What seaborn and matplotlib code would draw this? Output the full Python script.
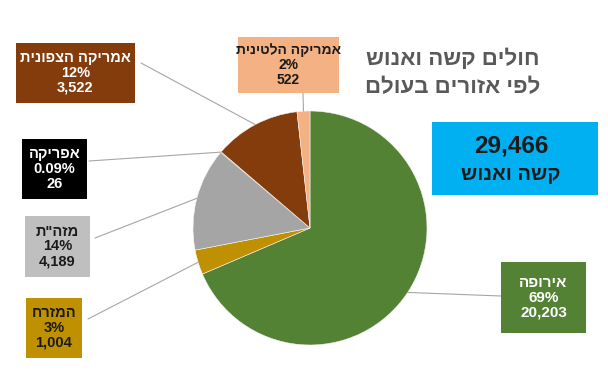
import matplotlib
matplotlib.use("Agg")
import matplotlib.pyplot as plt
import matplotlib.patches as mpatches
import numpy as np
import seaborn as sns

sns.set_theme(style="white")
plt.rcParams['font.family'] = ['Liberation Sans', 'DejaVu Sans']

# data, clockwise from 12 o'clock
regions = ["אירופה", "המזרח", 'מזה"ת', "אפריקה", "אמריקה הצפונית", "אמריקה הלטינית"]
patients = [20203, 1004, 4189, 26, 3522, 522]
pct_labels = ["69%", "3%", "14%", "0.09%", "12%", "2%"]
colors = ["#548235", "#BF9000", "#A5A5A5", "#000000", "#843C0C", "#F4B183"]
box_colors = ["#548235", "#BF9000", "#BFBFBF", "#000000", "#843C0C", "#F4B183"]
text_colors = ["white", "#1a1a1a", "#1a1a1a", "white", "white", "#1a1a1a"]
total_label = "29,466"
total_caption = "קשה ואנוש"
title_lines = ["חולים קשה ואנוש", "לפי אזורים בעולם"]

# layout in pixels (x0, y0, x1, y1) from top-left, plus line anchor on box
boxes = [(501, 262, 586, 333), (26, 298, 82, 358), (25, 216, 90, 277),
         (22, 139, 87, 199), (16, 43, 135, 103), (238, 37, 339, 93)]
anchors = [(501, 296), (88, 319), (95, 238), (89, 161), (141, 63), (303, 93)]
label_sizes = [11, 10.5, 10.5, 10.5, 10.5, 10]

W, H = 608, 390


def rtl(s):
    # matplotlib has no bidi support, flip Hebrew for display
    return s[::-1]


def fy(y):
    return H - y


fig = plt.figure(figsize=(6.08, 3.9), dpi=100)
fig.patch.set_facecolor("white")
ax = fig.add_axes([0, 0, 1, 1])

cx, cy, r = 310, 228, 117
wedges, _ = ax.pie(patients, colors=colors, startangle=90, counterclock=False,
                   center=(cx, fy(cy)), radius=r,
                   wedgeprops=dict(linewidth=0.4, edgecolor="#f5f5f5"))
ax.set_xlim(0, W)
ax.set_ylim(0, H)
ax.set_aspect("equal")
ax.axis("off")

for i, w in enumerate(wedges):
    mid = np.deg2rad((w.theta1 + w.theta2) / 2)
    px = cx + r * np.cos(mid)
    py = fy(cy) + r * np.sin(mid)
    ax_, ay_ = anchors[i]
    ax.plot([ax_, px], [fy(ay_), py], color="#A6A6A6", lw=0.8, zorder=1)

    x0, y0, x1, y1 = boxes[i]
    ax.add_patch(mpatches.Rectangle((x0, fy(y1)), x1 - x0, y1 - y0,
                                    facecolor=box_colors[i], edgecolor="none", zorder=3))
    txt = "\n".join([rtl(regions[i]), pct_labels[i], f"{patients[i]:,}"])
    ax.text((x0 + x1) / 2, fy((y0 + y1) / 2), txt, ha="center", va="center",
            fontsize=label_sizes[i], fontweight="bold", color=text_colors[i],
            linespacing=1.08, zorder=4)

# total box
ax.add_patch(mpatches.Rectangle((432, fy(195)), 166, 73, facecolor="#00B0F0",
                                edgecolor="none", zorder=3))
ax.text(511, fy(146), total_label, ha="center", va="center", fontsize=17.5,
        fontweight="bold", color="#1a1a1a", zorder=4)
ax.text(511, fy(175), rtl(total_caption), ha="center", va="center", fontsize=14.5,
        fontweight="bold", color="#1a1a1a", zorder=4)

# title
ax.text(540, fy(59), rtl(title_lines[0]), ha="right", va="center", fontsize=16,
        fontweight="bold", color="#595959")
ax.text(540, fy(88), rtl(title_lines[1]), ha="right", va="center", fontsize=16,
        fontweight="bold", color="#595959")

fig.savefig("out.png", dpi=100, facecolor="white")
